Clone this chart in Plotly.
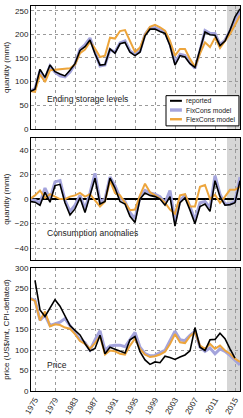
import plotly.graph_objects as go
from plotly.subplots import make_subplots

years = list(range(1974, 2017))

storage_reported = [79, 84, 126, 109, 135, 121, 116, 112, 124, 138, 166, 174, 188, 159, 135, 136, 169, 160, 180, 183,
                    162, 155, 162, 197, 211, 211, 206, 202, 176, 135, 155, 152, 138, 130, 168, 205, 199, 198, 176, 186,
                    209, 237, 254]
storage_fixcons = [80, 85, 122, 106, 133, 120, 112, 110, 120, 137, 168, 178, 192, 160, 133, 135, 168, 162, 182, 186,
                   165, 157, 165, 200, 214, 214, 210, 205, 180, 140, 158, 155, 140, 128, 165, 208, 202, 202, 178, 188,
                   207, 231, 249]
storage_flexcons = [80, 78, 115, 99, 124, 125, 127, 127, 128, 136, 160, 168, 184, 170, 152, 155, 193, 191, 207, 209,
                    185, 163, 172, 199, 216, 220, 215, 208, 186, 155, 169, 169, 148, 131, 159, 183, 173, 193, 171, 185,
                    201, 220, 240]

cons_reported = [-2, -2.5, -5, 5.5, -2.5, 11, 12, -3, -13, -8, 1, -11, 3, 17, -4, -2, 17, 9, -2, -4,
                 -14, -19, 0, 5, 3, 2, 0, -5, 2, -22, -3, 1, -9, -20, -6, -4, -10, 15, 2, -5,
                 -4.5, -3, 15]
cons_fixcons = [-1, -1, -3, 9, 0, 14, 15, -1, -10, -5, 3, -8, 5, 21, -2, 0, 18, 11, 1, -2,
                -11, -16, 2, 7, 5, 4, 2, -3, 7, -18, -1, 3, -6, -17, -3, -2, -7, 19, 4, -4,
                -4, -2, 18]
cons_flexcons = [0, 3, 7, 1, 4, 2, 0, 0, 2, 3, 5, 2, 4, -1, -6, -2, 15, 5, 3, -3,
                 -9, -8.5, 3, 12.5, 5.5, 3, 0.5, -3, -8.5, -12, 3, 4, -6, -6, 10, 11.5, 0, 3.5, -3, 2,
                 7.5, 7.5, 10]

price_reported = [None, 270, 198, 182, 204, 223, 207, 183, 160, 148, 137, 116, 98, 104, 136, 91, 107, 102, 97, 93,
                  125, 133, 96, 76, 65, 71, 69, 85, 82, 77, 83, 88, 98, 155, 107, 99, 125, 126, 141, 128,
                  103, 80, None]
price_fixcons = [226, 222, 173, 185, 160, 165, 168, 177, 160, 145, 125, 118, 100, 125, 147, 100, 110, 112, 112, 108,
                 125, 143, 107, 91, 86, 87, 94, 99, 123, 146, 125, 123, 136, 146, 107, 97, 105, 91, 103, 97,
                 87, 75, 64]
price_flexcons = [226, 220, 172, 194, 158, 163, 161, 155, 152, 139, 122, 115, 103, 117, 134, 89, 99, 97, 91, 89,
                  111, 128, 103, 89, 83, 85, 89, 96, 115, 139, 119, 117, 134, 144, 111, 103, 115, 103, 111, 99,
                  91, 79, 71]

x_ticks = list(range(1975, 2016, 4))
shade_start, shade_end = 2013.4, 2016.5

series_names = ["reported", "FixCons model", "FlexCons model"]

C_BLACK = "#000000"
C_FIX = "#a4a4dc"
C_FLEX = "#eda53c"
FONT = "Liberation Sans, Arial, Helvetica, sans-serif"
colors = {"reported": C_BLACK, "FixCons model": C_FIX, "FlexCons model": C_FLEX}
widths = {"reported": 1.6, "FixCons model": 3, "FlexCons model": 2}

fig = make_subplots(rows=3, cols=1, shared_xaxes=True)

panels = [
    (storage_reported, storage_fixcons, storage_flexcons),
    (cons_reported, cons_fixcons, cons_flexcons),
    (price_reported, price_fixcons, price_flexcons),
]
for i, (rep, fix, flex) in enumerate(panels, start=1):
    for name, vals in [("FixCons model", fix), ("FlexCons model", flex), ("reported", rep)]:
        fig.add_trace(go.Scatter(x=years, y=vals, mode="lines", name=name,
                                 line=dict(color=colors[name], width=widths[name]), showlegend=False),
                      row=i, col=1)

axis_common = dict(showline=True, mirror=True, linecolor="black", linewidth=1,
                   showgrid=True, gridcolor="#9a9a9a", griddash="dot", gridwidth=1,
                   ticks="", tickfont=dict(size=8, color="#222222", family=FONT))

for ax in ["xaxis", "xaxis2", "xaxis3"]:
    fig.layout[ax].update(**axis_common, range=[1974.2, 2016], tickvals=x_ticks, zeroline=False)
fig.layout.xaxis3.update(tickangle=-60, ticktext=[str(v) for v in x_ticks])

fig.layout.yaxis.update(**axis_common, domain=[0.681, 1.0], range=[0, 260], tickvals=[0, 50, 100, 150, 200, 250],
                        zeroline=False)
fig.layout.yaxis2.update(**axis_common, domain=[0.339, 0.658], range=[-50, 50], tickvals=[-40, -20, 0, 20, 40],
                         zeroline=True, zerolinecolor="black", zerolinewidth=1.5)
fig.layout.yaxis3.update(**axis_common, domain=[0.0, 0.319], range=[0, 300],
                         tickvals=[0, 50, 100, 150, 200, 250, 300], zeroline=False)

title_font = dict(size=8, color="#222222", family=FONT)
fig.layout.yaxis.title = dict(text="quantity (mmt)", font=title_font, standoff=4)
fig.layout.yaxis2.title = dict(text="quantity (mmt)", font=title_font, standoff=4)
fig.layout.yaxis3.title = dict(text="price (US$/mt, CPI-deflated)", font=title_font, standoff=4)

for xr, yref in [("x", "y domain"), ("x2", "y2 domain"), ("x3", "y3 domain")]:
    fig.add_shape(type="rect", xref=xr, yref=yref, x0=shade_start, x1=shade_end, y0=0, y1=1,
                  fillcolor="#d6d6d6", line=dict(width=0), layer="below")

label_font = dict(size=8.5, color="#222222", family=FONT)
fig.add_annotation(text="Ending storage levels", xref="x domain", yref="y domain", x=0.065, y=0.245,
                   xanchor="left", yanchor="middle", showarrow=False, font=label_font)
fig.add_annotation(text="Consumption anomalies", xref="x2 domain", yref="y2 domain", x=0.065, y=0.22,
                   xanchor="left", yanchor="middle", showarrow=False, font=label_font)
fig.add_annotation(text="Price", xref="x3 domain", yref="y3 domain", x=0.065, y=0.215,
                   xanchor="left", yanchor="middle", showarrow=False, font=label_font)

# compact legend box drawn inside the top panel
fig.add_shape(type="rect", xref="x domain", yref="y domain", x0=0.646, x1=0.995, y0=0.024, y1=0.27,
              fillcolor="white", line=dict(color="black", width=1), layer="above")
row_y = [0.228, 0.153, 0.078]
for name, yy in zip(series_names, row_y):
    fig.add_shape(type="line", xref="x domain", yref="y domain", x0=0.665, x1=0.722, y0=yy, y1=yy,
                  line=dict(color=colors[name], width=widths[name] + 0.4), layer="above")
    fig.add_annotation(text=name, xref="x domain", yref="y domain", x=0.733, y=yy,
                       xanchor="left", yanchor="middle", showarrow=False,
                       font=dict(size=6.8, color="#222222", family=FONT))

fig.update_layout(
    width=243, height=418,
    margin=dict(l=31, r=3, t=2, b=21),
    plot_bgcolor="white", paper_bgcolor="white",
    font=dict(family=FONT, size=8, color="#222222"),
    showlegend=False,
)

fig.write_html("out.html", config={"displayModeBar": False, "staticPlot": True})
with open("out.html", "r", encoding="utf-8") as f:
    html = f.read()
html = html.replace("<head>", "<head><style>html,body{margin:0;padding:0;overflow:hidden;}</style>", 1)
with open("out.html", "w", encoding="utf-8") as f:
    f.write(html)
